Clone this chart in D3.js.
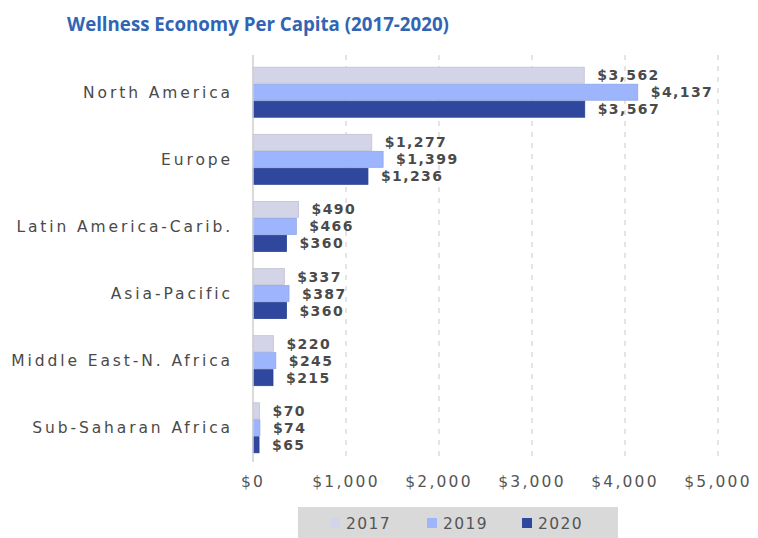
<!DOCTYPE html>
<html>
<head>
<meta charset="utf-8">
<script src="https://cdn.jsdelivr.net/npm/d3@7"></script>
<style>
  body { margin: 0; background: #fff; }
  text { font-family: "DejaVu Sans", sans-serif; }
</style>
</head>
<body>
<div id="content"></div>
<script>
const regions = ["North America", "Europe", "Latin America-Carib.", "Asia-Pacific", "Middle East-N. Africa", "Sub-Saharan Africa"];
const years = ["2017", "2019", "2020"];
const v2017 = [3562, 1277, 490, 337, 220, 70];
const v2019 = [4137, 1399, 466, 387, 245, 74];
const v2020 = [3567, 1236, 360, 360, 215, 65];
const xTicks = [0, 1000, 2000, 3000, 4000, 5000];
const colors = ["#d3d4e7", "#9db5fc", "#2f489e"];

const series = [v2017, v2019, v2020];
const rows = regions.map((r, i) => ({ region: r, vals: years.map((y, j) => ({ year: y, value: series[j][i] })) }));

const W = 758, H = 538;
const svg = d3.select("#content").append("svg").attr("width", W).attr("height", H);

const x = d3.scaleLinear().domain([0, 5000]).range([253, 718]);
const y = d3.scaleBand().domain(regions).range([60, 460]).paddingInner(0.24).paddingOuter(0.1);
const y1 = d3.scaleBand().domain(years).range([0, y.bandwidth()]);
const color = d3.scaleOrdinal().domain(years).range(colors);
const fmt = d3.format("$,");

// title
svg.append("text")
  .attr("x", 258).attr("y", 31)
  .attr("text-anchor", "middle")
  .attr("fill", "#3065b4")
  .style("font-family", "'Open Sans', sans-serif")
  .style("font-size", "18.7px").style("font-weight", "bold")
  .text("Wellness Economy Per Capita (2017-2020)");

// dashed gridlines
svg.append("g")
  .selectAll("line")
  .data(xTicks.slice(1))
  .join("line")
  .attr("x1", d => x(d)).attr("x2", d => x(d))
  .attr("y1", 55).attr("y2", 462)
  .attr("stroke", "#d6d6d6").attr("stroke-width", 1.3).attr("stroke-dasharray", "5,6");

// x tick labels
svg.append("g")
  .selectAll("text")
  .data(xTicks)
  .join("text")
  .attr("x", d => x(d)).attr("y", 487)
  .attr("text-anchor", "middle")
  .attr("fill", "#555")
  .style("font-size", "15.5px").style("letter-spacing", "2.2px")
  .text(d => fmt(d));

const groups = svg.append("g")
  .selectAll("g")
  .data(rows)
  .join("g")
  .attr("transform", d => `translate(0,${y(d.region)})`);

groups.selectAll("rect")
  .data(d => d.vals)
  .join("rect")
  .attr("x", x(0))
  .attr("y", d => y1(d.year) + 0.5)
  .attr("width", d => x(d.value) - x(0))
  .attr("height", y1.bandwidth() - 1)
  .attr("fill", d => color(d.year))
  .attr("stroke", d => d3.color(color(d.year)).darker(0.25))
  .attr("stroke-width", 0.8);

groups.selectAll("text.val")
  .data(d => d.vals)
  .join("text")
  .attr("class", "val")
  .attr("x", d => x(d.value) + 13)
  .attr("y", d => y1(d.year) + y1.bandwidth() / 2)
  .attr("dy", "0.36em")
  .attr("fill", "#4a4a4a")
  .style("font-size", "14px").style("font-weight", "bold").style("letter-spacing", "1.4px")
  .text(d => fmt(d.value));

// category labels
groups.append("text")
  .attr("x", 233)
  .attr("y", y.bandwidth() / 2)
  .attr("dy", "0.36em")
  .attr("text-anchor", "end")
  .attr("fill", "#4a4a4a")
  .style("font-size", "15.5px").style("letter-spacing", "2.9px")
  .text(d => d.region);

// axis line at zero
svg.append("line")
  .attr("x1", x(0)).attr("x2", x(0))
  .attr("y1", 55).attr("y2", 462)
  .attr("stroke", "#cfcfcf").attr("stroke-width", 1.5);

// legend
const lg = svg.append("g");
lg.append("rect").attr("x", 298).attr("y", 507).attr("width", 320).attr("height", 31).attr("fill", "#d9d9d9");
const legX = [330, 427, 522];
const li = lg.selectAll("g").data(years).join("g")
  .attr("transform", (d, i) => `translate(${legX[i]},523)`);
li.append("rect").attr("x", 0).attr("y", -5).attr("width", 10).attr("height", 10).attr("fill", d => color(d));
li.append("text").attr("x", 16).attr("dy", "0.36em").attr("fill", "#555")
  .style("font-size", "15.5px").style("letter-spacing", "1.4px").text(d => d);
</script>
</body>
</html>
